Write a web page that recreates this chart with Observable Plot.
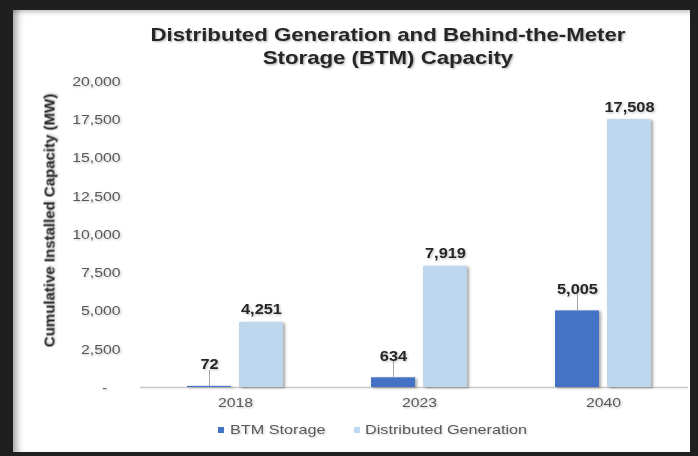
<!DOCTYPE html>
<html>
<head>
<meta charset="utf-8">
<script src="https://cdn.jsdelivr.net/npm/d3@7"></script>
<script src="https://cdn.jsdelivr.net/npm/@observablehq/plot@0.6"></script>
<style>
  html, body { margin: 0; padding: 0; }
  body { width: 698px; height: 456px; background: #1f1f1f; position: relative; overflow: hidden;
         font-family: "Liberation Sans", Arial, sans-serif; }
  #panel { position: absolute; left: 13px; top: 10px; width: 677px; height: 442px; background: #fff;
           box-shadow: inset 9px 0 7px -5px rgba(0,0,0,0.35), inset 0 7px 5px -5px rgba(0,0,0,0.25); }
  #title { position: absolute; left: 88px; width: 600px; top: 23px; text-align: center;
           font-size: 18.5px; font-weight: bold; line-height: 23px; color: #262626;
           transform: scaleX(1.2); transform-origin: center; text-shadow: 1px 1px 2px rgba(0,0,0,0.3); }
  #chart { position: absolute; left: 0; top: 0; }
  .leg { position: absolute; top: 422px; font-size: 13.5px; line-height: 16px; color: #595959;
         transform: scaleX(1.2); transform-origin: left center; white-space: nowrap;
         text-shadow: 1px 1px 2px rgba(0,0,0,0.2); }
  .sw { position: absolute; top: 427px; width: 6px; height: 6px; }
</style>
</head>
<body>
<div id="panel"></div>
<div id="title">Distributed Generation and Behind-the-Meter<br>Storage (BTM) Capacity</div>
<div id="chart"></div>
<div class="sw" id="sw0" style="left:218px"></div>
<div class="leg" id="leg0" style="left:230px"></div>
<div class="sw" id="sw1" style="left:354px"></div>
<div class="leg" id="leg1" style="left:365px"></div>
<script>
const years = ["2018", "2023", "2040"];
const seriesNames = ["BTM Storage", "Distributed Generation"];
const btmStorage = [72, 634, 5005];
const distGen = [4251, 7919, 17508];
const yTicks = [0, 2500, 5000, 7500, 10000, 12500, 15000, 17500, 20000];
const colors = ["#4472C4", "#BDD7EE"];
const yTitle = "Cumulative Installed Capacity (MW)";

const fmt = d3.format(",");
const btmRows = years.map((year, i) => ({year, series: seriesNames[0], value: btmStorage[i]}));
const dgRows = years.map((year, i) => ({year, series: seriesNames[1], value: distGen[i]}));

const plot = Plot.plot({
  width: 698,
  height: 420,
  marginLeft: 143,
  marginRight: 3,
  marginTop: 81,
  marginBottom: 33,
  style: {background: "transparent", fontFamily: '"Liberation Sans", Arial, sans-serif', fontSize: "13.5px", color: "#595959", overflow: "visible"},
  x: {domain: years, paddingInner: 0.478, paddingOuter: 0.239, tickSize: 0, tickPadding: 10, label: null},
  y: {domain: [0, 20000], ticks: yTicks, tickFormat: d => d === 0 ? "-\u00a0\u00a0\u00a0" : fmt(d), tickSize: 0, tickPadding: 23, label: null},
  color: {domain: seriesNames, range: colors},
  marks: [
    Plot.ruleY([0], {stroke: "#c8c8c8", strokeWidth: 1.5, insetLeft: -3, insetRight: 7}),
    Plot.barY(btmRows, {x: "year", y: "value", fill: "series", insetRight: 52}),
    Plot.barY(dgRows, {x: "year", y: "value", fill: "series", insetLeft: 52}),
    Plot.ruleX(btmRows, {x: "year", y1: "value", y2: d => d.value + 1050, dx: -26, stroke: "#a6a6a6"}),
    Plot.text(btmRows, {x: "year", y: "value", text: d => fmt(d.value), dx: -26, dy: -17, lineAnchor: "bottom", fontWeight: "bold", fontSize: 14, fill: "#262626"}),
    Plot.text(dgRows, {x: "year", y: "value", text: d => fmt(d.value), dx: 26, dy: -8, lineAnchor: "bottom", fontWeight: "bold", fontSize: 14, fill: "#262626"}),
    Plot.text([yTitle], {frameAnchor: "left", textAnchor: "middle", rotate: -90, dx: -94, dy: -14, fontWeight: "bold", fontSize: 15, fill: "#262626"})
  ]
});

// horizontal stretch of text to mimic the reference rendering
plot.querySelectorAll("text").forEach(t => {
  t.style.filter = "drop-shadow(1px 1px 1px rgba(0,0,0,0.25))";
  if (t.textContent === yTitle) return;
  const tr = t.getAttribute("transform");
  if (tr) {
    t.setAttribute("transform", tr + " scale(1.17,1)");
  } else {
    const x = +(t.getAttribute("x") || 0), y = +(t.getAttribute("y") || 0);
    t.removeAttribute("x"); t.removeAttribute("y");
    t.setAttribute("transform", `translate(${x},${y}) scale(1.17,1)`);
  }
});
plot.querySelectorAll('g[aria-label="bar"]').forEach(g => {
  g.style.filter = "drop-shadow(2px 1px 1.5px rgba(0,0,0,0.35))";
});

document.getElementById("chart").appendChild(plot);
seriesNames.forEach((s, i) => {
  document.getElementById("leg" + i).textContent = s;
  document.getElementById("sw" + i).style.background = colors[i];
});
</script>
</body>
</html>
